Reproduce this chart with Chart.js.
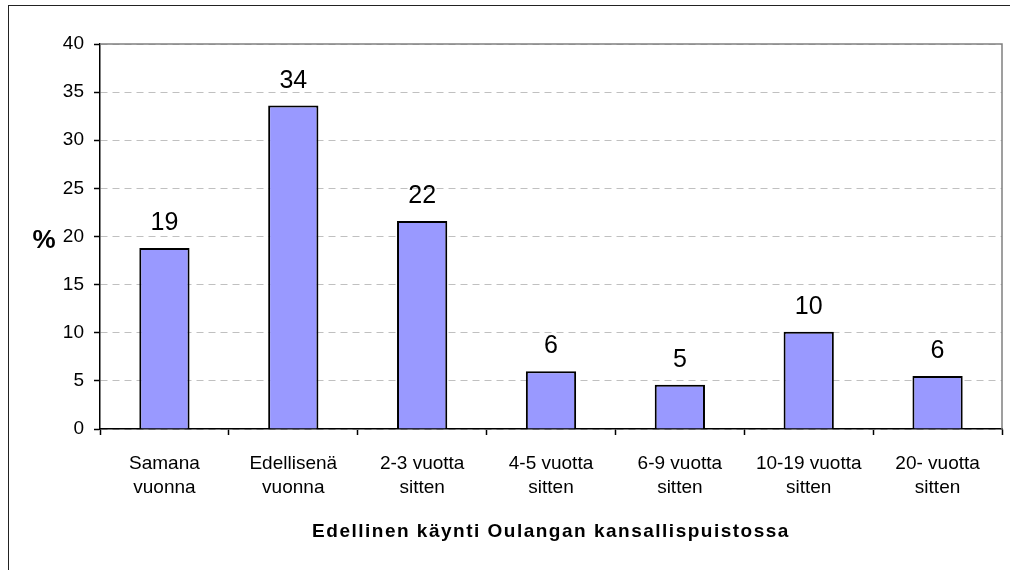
<!DOCTYPE html>
<html>
<head>
<meta charset="utf-8">
<title>Edellinen käynti Oulangan kansallispuistossa</title>
<script src="https://cdn.jsdelivr.net/npm/chart.js@4.4.1/dist/chart.umd.min.js"></script>
<style>
    html, body { margin: 0; padding: 0; background: #fff; overflow: hidden; }
    #wrap { position: relative; width: 1010px; height: 570px; }
    #frame { position: absolute; left: 8px; top: 5px; width: 1020px; height: 600px; border: 1.5px solid #222; box-sizing: border-box; }
    canvas { position: absolute; left: 0; top: 0; }
</style>
</head>
<body>
<div id="wrap">
    <div id="frame"></div>
    <canvas id="visits" width="1010" height="570"></canvas>
</div>
<script>
    "use strict";

    // Data
    var categories = [
        ["Samana", "vuonna"],
        ["Edellisenä", "vuonna"],
        ["2-3 vuotta", "sitten"],
        ["4-5 vuotta", "sitten"],
        ["6-9 vuotta", "sitten"],
        ["10-19 vuotta", "sitten"],
        ["20- vuotta", "sitten"]
    ];
    var shares = [18.8, 33.6, 21.6, 6.0, 4.6, 10.1, 5.5];
    var yTicks = [0, 5, 10, 15, 20, 25, 30, 35, 40];
    var xTitle = "Edellinen käynti Oulangan kansallispuistossa";
    var yTitle = "%";

    var fontFamily = "'Liberation Sans', Arial, sans-serif";
    Chart.defaults.font.family = fontFamily;
    Chart.defaults.color = "#000";

    // Value labels, "%" and axis title
    var extras = {
        id: "extras",
        afterDatasetsDraw: function (chart) {
            var ctx = chart.ctx;
            var area = chart.chartArea;
            ctx.save();

            // plot frame (top and right)
            ctx.strokeStyle = "#808080";
            ctx.lineWidth = 1.5;
            ctx.beginPath();
            ctx.moveTo(area.left, area.top);
            ctx.lineTo(area.right, area.top);
            ctx.lineTo(area.right, area.bottom);
            ctx.stroke();

            ctx.fillStyle = "#000";
            ctx.textAlign = "center";
            ctx.textBaseline = "alphabetic";
            ctx.font = "25px " + fontFamily;
            chart.getDatasetMeta(0).data.forEach(function (bar, i) {
                ctx.fillText(String(Math.round(shares[i])), bar.x, bar.y - 18);
            });

            ctx.font = "bold 26px " + fontFamily;
            ctx.textBaseline = "middle";
            ctx.fillText(yTitle, 44, chart.scales.y.getPixelForValue(20) + 4);

            ctx.font = "bold 19px " + fontFamily;
            ctx.textBaseline = "alphabetic";
            ctx.letterSpacing = "1.5px";
            ctx.fillText(xTitle, (area.left + area.right) / 2, 537);
            ctx.restore();
        }
    };

    var ctx = document.getElementById("visits").getContext("2d");
    var visitsChart = new Chart(ctx, {
        type: "bar",
        data: {
            labels: categories,
            datasets: [{
                data: shares,
                backgroundColor: "#9999FF",
                borderColor: "#000",
                borderWidth: 2,
                barPercentage: 0.39,
                categoryPercentage: 1
            }]
        },
        options: {
            responsive: false,
            animation: false,
            layout: { padding: { top: 44, right: 8, left: 0, bottom: 0 } },
            plugins: {
                legend: { display: false },
                tooltip: { enabled: false }
            },
            scales: {
                x: {
                    afterFit: function (scale) { scale.height = 141; },
                    grid: {
                        drawOnChartArea: false,
                        tickLength: 6,
                        tickColor: "#000",
                        tickWidth: 1.5
                    },
                    border: { color: "#000", width: 1.5 },
                    ticks: {
                        font: { size: 19, lineHeight: 1.25 },
                        padding: 17,
                        maxRotation: 0,
                        autoSkip: false
                    }
                },
                y: {
                    min: 0,
                    max: 40,
                    afterFit: function (scale) { scale.width = 100; },
                    afterBuildTicks: function (scale) {
                        scale.ticks = yTicks.map(function (v) { return { value: v }; });
                    },
                    grid: {
                        color: "#c0c0c0",
                        lineWidth: 1,
                        tickLength: 6,
                        tickColor: "#000",
                        tickWidth: 1.5,
                        tickBorderDash: []
                    },
                    border: { color: "#000", width: 1.5, dash: [7, 5] },
                    ticks: {
                        font: { size: 19 },
                        padding: 10
                    }
                }
            }
        },
        plugins: [extras]
    });
</script>
</body>
</html>
